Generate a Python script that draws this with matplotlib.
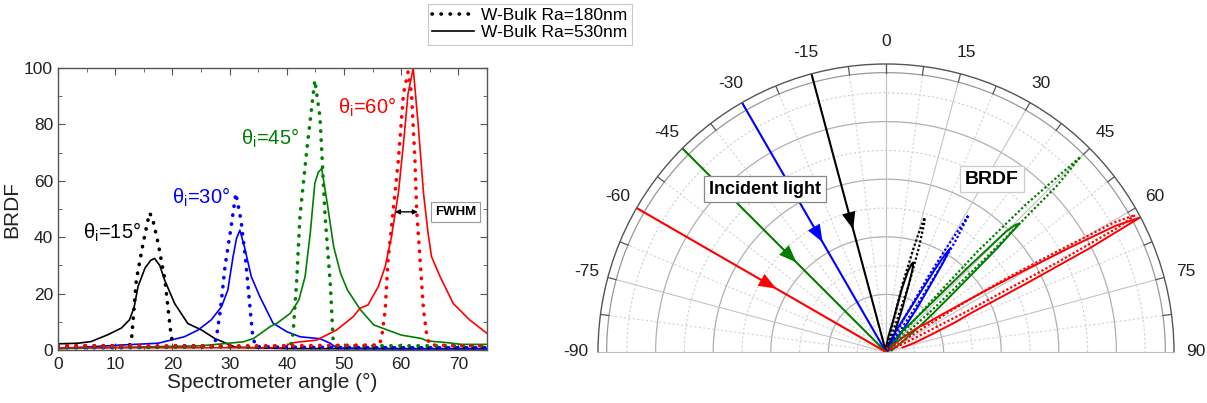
import numpy as np
import matplotlib
matplotlib.use("Agg")
import matplotlib.pyplot as plt
from matplotlib.lines import Line2D

plt.rcParams['font.family'] = ['Liberation Sans', 'DejaVu Sans']
plt.rcParams['mathtext.fontset'] = 'custom'
plt.rcParams['mathtext.rm'] = 'Liberation Sans'

# BRDF curves (spectrometer angle in deg, BRDF)
# W-Bulk Ra=180nm (dotted)
blk180_x = [0, 5, 10, 12.5, 12.9, 13.7, 14.9, 16.0, 16.5, 17.5, 18.7, 19.8, 20.3, 25, 35, 50, 75]
blk180_y = [1.5, 1.5, 1.5, 1.5, 4.7, 24.8, 38, 48.6, 47, 38, 24.8, 4.7, 1.5, 1.5, 1.0, 0.8, 0.8]
blu180_x = [0, 10, 20, 27.3, 27.8, 28.4, 29.2, 30.1, 31.1, 32.0, 32.8, 33.4, 34.0, 34.5, 40, 60, 75]
blu180_y = [0.8, 0.8, 1.0, 1.2, 5.9, 14.2, 29.6, 41.4, 55.6, 46, 31.9, 18.9, 5.9, 1.2, 1.0, 0.8, 0.8]
grn180_x = [0, 20, 35, 40.7, 41.1, 41.7, 42.3, 43.5, 44.9, 45.8, 46.7, 47.6, 48.1, 48.6, 60, 75]
grn180_y = [1.0, 1.0, 1.2, 1.5, 5.9, 23.6, 47.3, 71, 95.7, 82.7, 47.3, 23.6, 3.5, 1.5, 1.5, 1.5]
red180_x = [0, 20, 40, 56.2, 56.6, 57.2, 57.7, 58.6, 59.5, 60.4, 61.2, 61.8, 62.4, 62.7, 63.3, 63.9, 64.5, 65.0, 70, 75]
red180_y = [1.5, 1.5, 1.5, 1.8, 4.7, 14.2, 31.9, 49.6, 67.4, 91, 98.7, 91, 67.4, 49.6, 31.9, 14.2, 4.7, 1.8, 1.5, 1.5]

# W-Bulk Ra=530nm (solid)
blk530_x = [0, 3.5, 5.8, 8.7, 11.1, 12.5, 13.3, 14.0, 15.2, 16.2, 16.9, 17.8, 18.65, 20.4, 22.7, 25.1, 27.4, 29.4, 31, 40, 60, 75]
blk530_y = [2.2, 2.4, 3.0, 5.4, 7.8, 10.7, 15, 22.5, 29, 31.8, 32.5, 30, 24.8, 16.5, 9.4, 7.1, 4.1, 2.4, 1.0, 0.5, 0.4, 0.4]
blu530_x = [0, 11.4, 17.5, 22.1, 24.5, 26.8, 28.6, 29.7, 30.6, 31.2, 31.8, 32.6, 33.8, 35.3, 37.6, 40.0, 42.3, 45.8, 47.6, 48.7, 60, 75]
blu530_y = [0.5, 1.8, 2.4, 4.7, 7.1, 10.7, 15.4, 21.3, 33, 39.5, 42.5, 36.6, 26, 18.9, 9.5, 6.5, 4.7, 4.0, 2.4, 0.7, 0.5, 0.5]
grn530_x = [0, 25, 32.4, 34.2, 37.1, 38.3, 40.6, 42.1, 43.2, 44.1, 44.9, 45.5, 46.1, 47.0, 48.2, 49.4, 50.6, 52.9, 55.2, 57.6, 60, 63.5, 64.6, 68.1, 70.5, 75]
grn530_y = [0.5, 1.5, 2.9, 4.1, 8.3, 9.5, 13, 17.7, 26, 41.4, 59.1, 63, 64.4, 53, 36.6, 27.2, 21.3, 14.2, 8.9, 7.1, 5.3, 4.1, 3.2, 2.6, 2.0, 2.0]
red530_x = [0, 39.4, 40.6, 42.3, 45.2, 48.7, 51.6, 52.8, 54.2, 56.0, 57.2, 58.3, 59.5, 60.4, 61.2, 62.1, 63.0, 63.9, 64.7, 65.3, 66.8, 69.1, 72.0, 75]
red530_y = [0.8, 0.8, 2.4, 2.9, 3.5, 7.1, 11.8, 14.8, 16, 22.5, 29.6, 40.2, 55.6, 73.3, 91, 99.9, 79.2, 55.6, 41.4, 33.1, 26, 16.5, 10.6, 5.9]

colors = ['black', '#0000ff', '#007f00', '#ff0000']
incident_angles = [-15, -30, -45, -60]
theta_labels = ['θ$_\\mathregular{i}$=15°', 'θ$_\\mathregular{i}$=30°',
                'θ$_\\mathregular{i}$=45°', 'θ$_\\mathregular{i}$=60°']
label_pos = [(9.4, 41.8), (25, 54), (37, 75), (54, 86)]

curves180 = [(blk180_x, blk180_y), (blu180_x, blu180_y), (grn180_x, grn180_y), (red180_x, red180_y)]
curves530 = [(blk530_x, blk530_y), (blu530_x, blu530_y), (grn530_x, grn530_y), (red530_x, red530_y)]

dot_style = (0, (0.1, 2.4))

W, H = 1207, 403
fig = plt.figure(figsize=(W / 100, H / 100), dpi=100)

# ---------------- left: cartesian BRDF ----------------
ax = fig.add_axes([0.048, 0.1315, 0.3555, 0.6995])
for (x, y), c in zip(curves530, colors):
    ax.plot(x, y, color=c, lw=1.2)
for (x, y), c in zip(curves180, colors):
    ax.plot(x, y, color=c, lw=2.6, linestyle=dot_style, dash_capstyle='round')

for txt, (px, py), c in zip(theta_labels, label_pos, colors):
    ax.text(px, py, txt, color=c, fontsize=14.5, ha='center', va='center')

ax.annotate('', xy=(58.9, 49), xytext=(62.9, 49),
            arrowprops=dict(arrowstyle='<|-|>', color='black', lw=1.0,
                            mutation_scale=7, shrinkA=0, shrinkB=0))
ax.text(69.5, 49, 'FWHM', fontsize=9.5, fontweight='bold', ha='center', va='center',
        bbox=dict(boxstyle='square,pad=0.3', fc='white', ec='#999999', lw=0.8))

ax.set_xlim(0, 75)
ax.set_ylim(0, 100)
ax.set_xticks(np.arange(0, 71, 10))
ax.set_yticks(np.arange(0, 101, 20))
ax.set_xticks(np.arange(5, 76, 10), minor=True)
ax.set_yticks(np.arange(10, 100, 20), minor=True)
ax.tick_params(which='both', direction='in', top=True, right=True, labelsize=12.5,
               color='#555555', labelcolor='#222222')
ax.tick_params(which='major', length=5)
ax.tick_params(which='minor', length=3)
ax.tick_params(axis='x', pad=5)
for s in ax.spines.values():
    s.set_color('#555555')
    s.set_linewidth(1.0)
ax.set_xlabel('Spectrometer angle (°)', fontsize=15, labelpad=1, color='#222222')
ax.set_ylabel('BRDF', fontsize=15, labelpad=2, color='#222222')

# legend
handles = [Line2D([], [], color='black', lw=2.6, linestyle=dot_style, dash_capstyle='round'),
           Line2D([], [], color='black', lw=1.2)]
leg = fig.legend(handles, ['W-Bulk Ra=180nm', 'W-Bulk Ra=530nm'], loc='upper left',
                 bbox_to_anchor=(428 / W, 1 - 4 / H), fontsize=12.5, frameon=True,
                 fancybox=False, edgecolor='#bbbbbb', handlelength=2.4, handletextpad=0.4,
                 borderpad=0.25, labelspacing=0.1, borderaxespad=0)
leg.get_frame().set_linewidth(0.8)

# ---------------- right: polar BRDF ----------------
# half-disc is centred inside a square box, so give a square box around it
cx, cy, R = 886, 352, 288
pa = fig.add_axes([(cx - R) / W, (H - (cy - R / 2) - R) / H, 2 * R / W, 2 * R / H],
                  projection='polar')
pa.set_theta_zero_location('N')
pa.set_theta_direction(-1)
pa.set_thetamin(-90)
pa.set_thetamax(90)
pa.set_ylim(0, 100)
pa.grid(False)
pa.set_yticks([])
pa.set_xticks(np.deg2rad(np.arange(-90, 91, 15)))
pa.set_xticklabels([str(a) for a in range(-90, 91, 15)], fontsize=12.5, color='#222222')
pa.tick_params(axis='x', pad=9, length=0)
pa.spines['polar'].set_color('#555555')
pa.spines['polar'].set_linewidth(1.0)
pa.spines['start'].set_color('#bbbbbb')
pa.spines['end'].set_color('#bbbbbb')

th = np.deg2rad(np.linspace(-90, 90, 361))
for r in [20, 40, 60, 80]:
    pa.plot(th, np.full_like(th, r), color='#b0b0b0', lw=0.9, zorder=0)
for r in [10, 30, 50, 70, 90]:
    pa.plot(th, np.full_like(th, r), color='#d0d0d0', lw=0.8, linestyle=(0, (2, 2)), zorder=0)
pa.plot(th, np.full_like(th, 97), color='#999999', lw=0.9, zorder=0)
for a in np.arange(-75, 76, 15):
    pa.plot(np.deg2rad([a, a]), [0, 97], color='#c4c4c4', lw=0.8, zorder=0)
for a in np.arange(-82.5, 83, 15):
    pa.plot(np.deg2rad([a, a]), [0, 97], color='#d4d4d4', lw=0.8, linestyle=(0, (2, 2)), zorder=0)
for a in np.arange(-82.5, 83, 7.5):
    pa.plot(np.deg2rad([a, a]), [97, 100], color='#555555', lw=0.9, zorder=1)
pa.plot(np.deg2rad([0, 0]), [0, 100], color='#c4c4c4', lw=0.8, zorder=0)

for (x, y), c in zip(curves530, colors):
    pa.plot(np.deg2rad(x), y, color=c, lw=1.4)
for (x, y), c in zip(curves180, colors):
    pa.plot(np.deg2rad(x), y, color=c, lw=1.6, linestyle=(0, (1, 1)))

for a, c in zip(incident_angles, colors):
    t = np.deg2rad(a)
    pa.plot([t, t], [100, 0], color=c, lw=1.5)
    pa.annotate('', xy=(t, 44), xytext=(t, 52),
                arrowprops=dict(arrowstyle='-|>,head_length=0.9,head_width=0.35',
                                color=c, lw=0, mutation_scale=14, shrinkA=0, shrinkB=0))

fig.text(765 / W, 1 - 189 / H, 'Incident light', fontsize=13, fontweight='bold',
         ha='center', va='center',
         bbox=dict(boxstyle='square,pad=0.25', fc='white', ec='#888888', lw=0.9))
fig.text(992 / W, 1 - 179 / H, 'BRDF', fontsize=14, fontweight='bold',
         ha='center', va='center',
         bbox=dict(boxstyle='square,pad=0.25', fc='white', ec='#cccccc', lw=0.9))

fig.savefig('out.png', dpi=100)
